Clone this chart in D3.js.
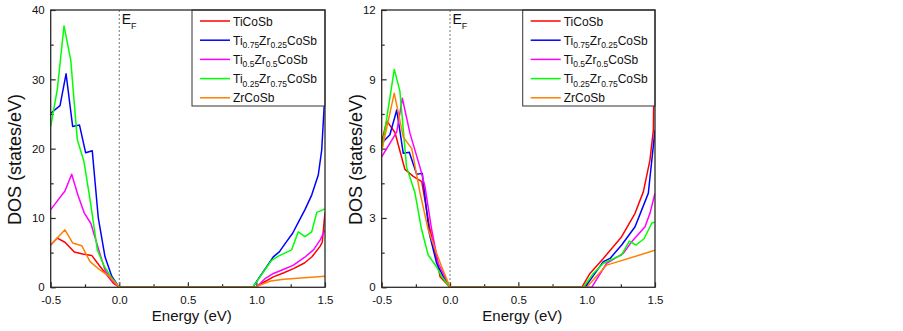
<!DOCTYPE html>
<html lang="en">
<head>
    <meta charset="UTF-8">
    <title>DOS near the Fermi level</title>
    <script src="https://cdnjs.cloudflare.com/ajax/libs/d3/7.8.5/d3.min.js"></script>
    <style>
        body { margin: 0; background: #fff; }
        svg { display: block; }
        text { font-family: "Liberation Sans", Arial, sans-serif; fill: #111; }
    </style>
</head>
<body>
    <div id="chart"></div>
    <script>
        // legend labels, _{..} marks a subscript
        const seriesLabels = ["TiCoSb", "Ti_{0.75}Zr_{0.25}CoSb", "Ti_{0.5}Zr_{0.5}CoSb", "Ti_{0.25}Zr_{0.75}CoSb", "ZrCoSb"];
        const seriesColors = ["#ff0000", "#0000ff", "#ff00ff", "#00ff00", "#ff8000"];

        const xTicks = [-0.5, 0.0, 0.5, 1.0, 1.5];
        const leftYTicks = [0, 10, 20, 30, 40];
        const rightYTicks = [0, 3, 6, 9, 12];

        // [energy (eV), DOS (states/eV)]
        const leftTiCoSb = [[-0.5,6.1],[-0.452,7.1],[-0.396,6.5],[-0.328,5.1],[-0.267,4.8],[-0.201,4.6],[-0.14,3.0],[-0.08,1.5],[-0.044,0.6],[0,0],
            [0.99,0],[1.06,0.8],[1.124,1.5],[1.2,2.1],[1.27,2.7],[1.35,3.5],[1.405,4.4],[1.464,5.9],[1.48,6.5],[1.5,10.8]];
        const leftTi75 = [[-0.5,25.1],[-0.432,26.2],[-0.388,30.8],[-0.34,23.2],[-0.29,23.4],[-0.245,19.4],[-0.197,19.7],[-0.153,10.0],[-0.104,4.4],[-0.055,1.6],[0,0],
            [0.973,0],[1.123,4.4],[1.167,5.1],[1.213,6.4],[1.264,7.8],[1.309,9.5],[1.354,11.2],[1.403,13.3],[1.451,16.2],[1.476,19.8],[1.5,28.2]];
        const leftTi50 = [[-0.5,11.2],[-0.45,12.5],[-0.396,13.9],[-0.347,16.3],[-0.3,13.2],[-0.255,10.7],[-0.207,9.2],[-0.153,5.6],[-0.104,2.5],[-0.06,1.1],[0,0],
            [1.0,0],[1.06,1.2],[1.124,2.0],[1.2,2.6],[1.27,3.2],[1.35,4.3],[1.416,5.4],[1.464,6.8],[1.5,8.2]];
        const leftTi25 = [[-0.5,23.2],[-0.452,28.5],[-0.403,37.7],[-0.354,32.8],[-0.306,21.3],[-0.257,18.1],[-0.208,12.0],[-0.16,5.4],[-0.109,3.0],[-0.06,1.5],[0,0],
            [0.973,0],[1.111,3.9],[1.16,4.5],[1.257,5.4],[1.305,8.0],[1.354,7.3],[1.403,8.0],[1.44,10.8],[1.5,11.3]];
        const leftZr = [[-0.5,6.1],[-0.396,8.3],[-0.34,6.4],[-0.274,6.0],[-0.213,3.7],[-0.141,2.5],[-0.068,1.5],[0,0],
            [0.985,0],[1.05,0.5],[1.104,0.9],[1.2,1.15],[1.3,1.3],[1.4,1.45],[1.5,1.6]];

        // right panel
        const rightTiCoSb = [[-0.5,6.3],[-0.463,7.2],[-0.403,6.7],[-0.33,5.1],[-0.269,4.8],[-0.207,4.57],[-0.15,2.6],[-0.1,1.3],[-0.073,0.46],[0,0],
            [0.964,0],[1.024,0.6],[1.122,1.25],[1.256,2.19],[1.354,3.2],[1.415,4.14],[1.463,5.5],[1.488,6.8],[1.5,12.5]];
        const rightTi75 = [[-0.5,6.23],[-0.44,6.6],[-0.39,7.67],[-0.342,5.8],[-0.298,5.84],[-0.244,4.89],[-0.203,4.93],[-0.152,2.34],[-0.098,1.04],[-0.049,0.46],[0,0],
            [0.988,0],[1.122,1.11],[1.171,1.25],[1.256,1.83],[1.354,2.62],[1.403,3.35],[1.451,4.07],[1.5,6.8]];
        const rightTi50 = [[-0.5,5.65],[-0.44,6.23],[-0.39,6.73],[-0.349,8.18],[-0.293,6.66],[-0.22,5.2],[-0.183,4.35],[-0.134,2.48],[-0.086,1.04],[0,0],
            [1.037,0],[1.146,1.04],[1.268,1.47],[1.329,1.97],[1.427,2.62],[1.463,3.2],[1.5,4.07]];
        const rightTi25 = [[-0.5,5.9],[-0.408,9.43],[-0.367,8.5],[-0.318,5.2],[-0.257,4.1],[-0.208,2.5],[-0.16,1.4],[-0.1,0.9],[-0.06,0.46],[0,0],
            [0.975,0],[1.049,0.6],[1.122,1.04],[1.256,1.4],[1.312,2.0],[1.361,1.83],[1.42,2.1],[1.476,2.77],[1.5,2.83]];
        const rightZr = [[-0.5,5.9],[-0.408,8.4],[-0.342,6.5],[-0.28,6.0],[-0.22,4.1],[-0.16,2.5],[-0.1,1.5],[-0.062,0.9],[0,0],
            [1.0,0],[1.146,0.96],[1.5,1.6]];

        const width = 903;
        const height = 331;
        const plotTop = 10, plotBottom = 287.3;

        const panels = [
            {left: 50.7, right: 325, yMax: 40, yTicks: leftYTicks, labelX: 21, legendX: 192,
             series: [leftTiCoSb, leftTi75, leftTi50, leftTi25, leftZr]},
            {left: 381.7, right: 655, yMax: 12, yTicks: rightYTicks, labelX: 362, legendX: 522.7,
             series: [rightTiCoSb, rightTi75, rightTi50, rightTi25, rightZr]}
        ];

        const svg = d3.select("#chart").append("svg")
            .attr("width", width)
            .attr("height", height)
            .attr("viewBox", [0, 0, width, height]);

        const axisColor = "#2a2a2a";

        function addLabel(sel, str, subSize, subShift) {
            const parts = str.split(/_\{([^}]*)\}/);
            parts.forEach((p, i) => {
                if (!p) return;
                const t = sel.append("tspan").text(p);
                if (i % 2 === 1) {
                    t.attr("font-size", subSize).attr("dy", subShift);
                } else if (i > 0) {
                    t.attr("dy", -subShift);
                }
            });
        }

        panels.forEach((p, pi) => {
            const x = d3.scaleLinear().domain([-0.5, 1.5]).range([p.left, p.right]);
            const y = d3.scaleLinear().domain([0, p.yMax]).range([plotBottom, plotTop]);
            const g = svg.append("g");

            const clipId = "clip" + pi;
            svg.append("clipPath").attr("id", clipId)
                .append("rect")
                .attr("x", p.left).attr("y", plotTop)
                .attr("width", p.right - p.left).attr("height", plotBottom - plotTop);

            // minor ticks halfway between the labelled ones
            const xMinor = d3.range(xTicks.length - 1).map(i => (xTicks[i] + xTicks[i + 1]) / 2);
            const yMinor = d3.range(p.yTicks.length - 1).map(i => (p.yTicks[i] + p.yTicks[i + 1]) / 2);

            g.append("g")
                .attr("transform", `translate(0,${plotBottom})`)
                .call(d3.axisBottom(x).tickValues(xMinor).tickSize(-3).tickFormat(""))
                .call(a => a.select(".domain").remove());
            g.append("g")
                .attr("transform", `translate(${p.left},0)`)
                .call(d3.axisLeft(y).tickValues(yMinor).tickSize(-3).tickFormat(""))
                .call(a => a.select(".domain").remove());

            g.append("g")
                .attr("transform", `translate(0,${plotBottom})`)
                .call(d3.axisBottom(x).tickValues(xTicks).tickSize(-5).tickPadding(9)
                    .tickFormat(d => d.toFixed(1)))
                .call(a => a.select(".domain").remove());
            g.append("g")
                .attr("transform", `translate(${p.left},0)`)
                .call(d3.axisLeft(y).tickValues(p.yTicks).tickSize(-5).tickPadding(6)
                    .tickFormat(d3.format("d")))
                .call(a => a.select(".domain").remove());

            g.selectAll(".tick line").attr("stroke", axisColor).attr("stroke-width", 1.2);
            g.selectAll(".tick text").attr("font-size", 11.5).attr("fill", "#111")
                .attr("font-family", "Liberation Sans, Arial, sans-serif");

            // Fermi level
            g.append("line")
                .attr("x1", x(0)).attr("x2", x(0))
                .attr("y1", plotTop).attr("y2", plotBottom)
                .attr("stroke", "#777")
                .attr("stroke-width", 1)
                .attr("stroke-dasharray", "2,2");

            const ef = g.append("text")
                .attr("x", x(0) + 2.5)
                .attr("y", plotTop + 13.5)
                .attr("font-size", 14);
            addLabel(ef, "E_{F}", 9, 5);

            // curves
            const line = d3.line().x(d => x(d[0])).y(d => y(d[1]));
            g.append("g")
                .attr("clip-path", `url(#${clipId})`)
                .selectAll("path")
                .data(p.series)
                .join("path")
                .attr("fill", "none")
                .attr("stroke", (d, i) => seriesColors[i])
                .attr("stroke-width", 1.5)
                .attr("stroke-linejoin", "round")
                .attr("d", line);

            // legend
            const lg = g.append("g");
            lg.append("rect")
                .attr("x", p.legendX).attr("y", plotTop)
                .attr("width", p.right - p.legendX).attr("height", 96)
                .attr("fill", "#fff")
                .attr("stroke", "#333")
                .attr("stroke-width", 1);
            const rows = lg.selectAll("g.row")
                .data(seriesLabels)
                .join("g")
                .attr("class", "row")
                .attr("transform", (d, i) => `translate(${p.legendX},${plotTop + 11 + i * 19.2})`);
            rows.append("line")
                .attr("x1", 8).attr("x2", 38)
                .attr("stroke", (d, i) => seriesColors[i])
                .attr("stroke-width", 1.5);
            rows.append("text")
                .attr("x", 41)
                .attr("y", 4.5)
                .attr("font-size", 12)
                .each(function(d) { addLabel(d3.select(this), d, 8.5, 3.5); });

            // frame
            g.append("rect")
                .attr("x", p.left).attr("y", plotTop)
                .attr("width", p.right - p.left).attr("height", plotBottom - plotTop)
                .attr("fill", "none")
                .attr("stroke", axisColor)
                .attr("stroke-width", 1.3);

            // axis titles
            g.append("text")
                .attr("x", (p.left + p.right) / 2 + 4)
                .attr("y", 321)
                .attr("text-anchor", "middle")
                .attr("font-size", 15)
                .text("Energy (eV)");
            g.append("text")
                .attr("transform", `translate(${p.labelX},159.5) rotate(-90)`)
                .attr("text-anchor", "middle")
                .attr("font-size", 18)
                .text("DOS (states/eV)");
        });
    </script>
</body>
</html>
